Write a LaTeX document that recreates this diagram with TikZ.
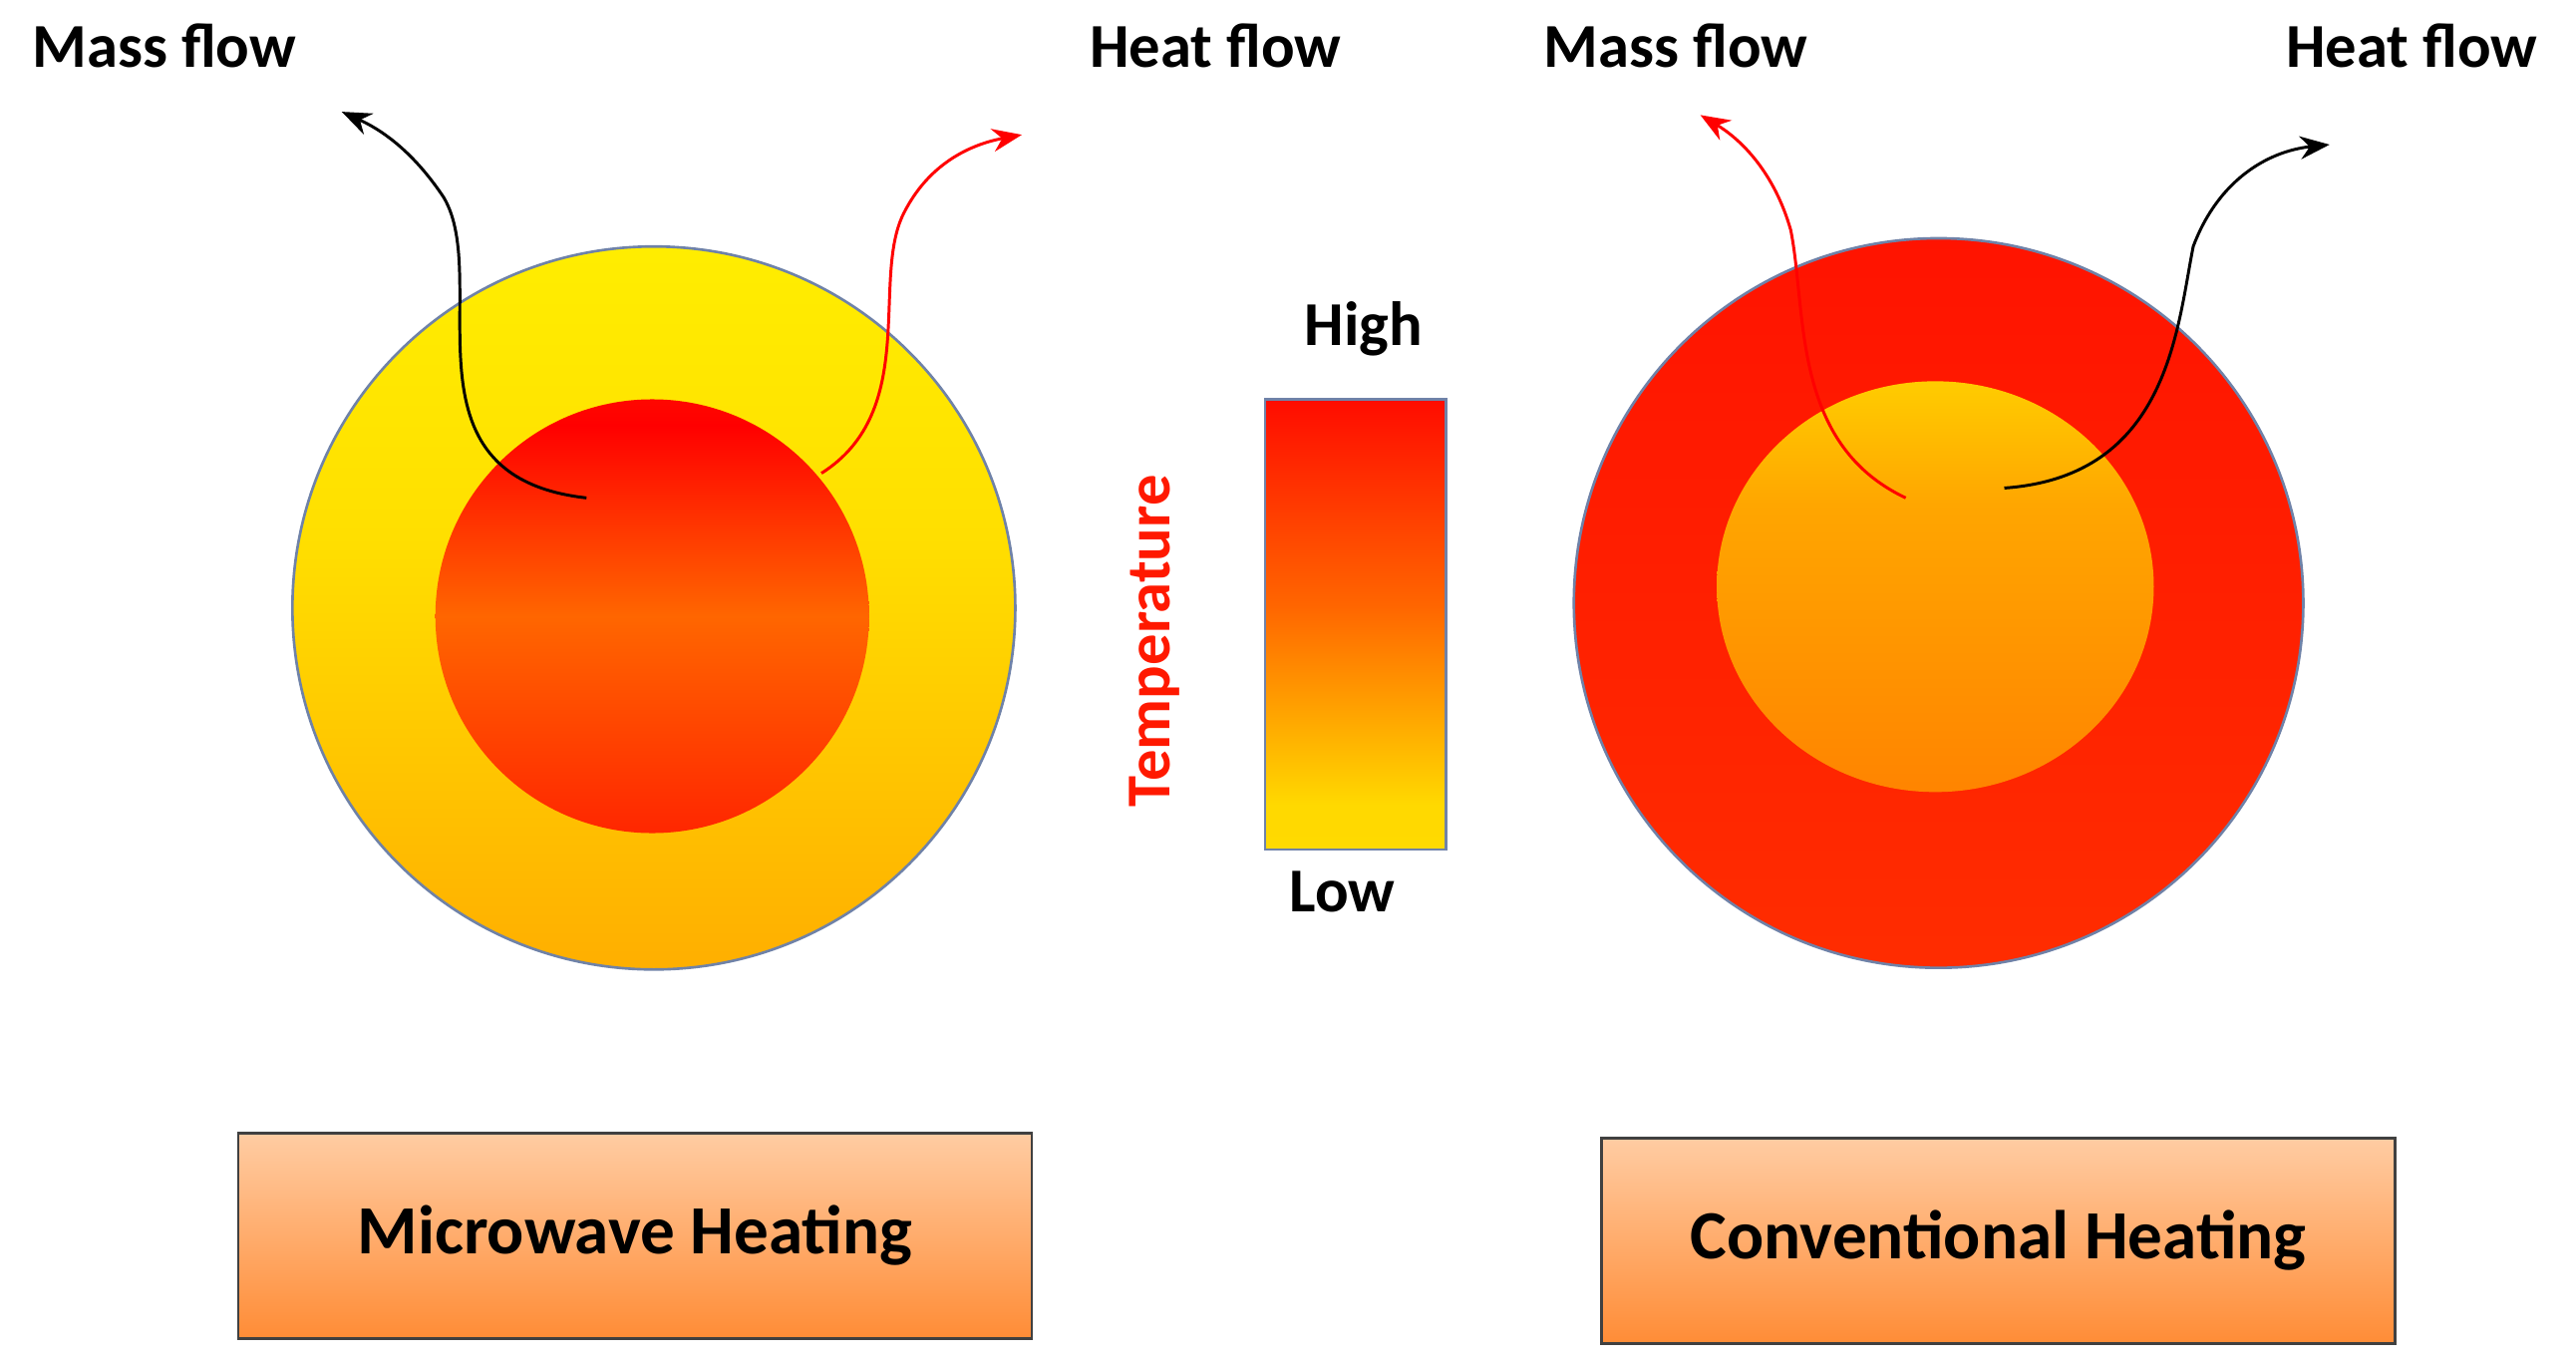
\documentclass[tikz,border=0pt]{standalone}
\usepackage{fontspec}
\setmainfont{Carlito}
\usetikzlibrary{arrows.meta}
\definecolor{rim}{HTML}{6F82A8}
\pgfdeclareverticalshading{louter}{100bp}{color(0bp)=(red!60!orange); color(4bp)=(orange!90!yellow); color(55bp)=(yellow!75!orange); color(100bp)=(yellow)}
\pgfdeclareverticalshading{linner}{100bp}{color(0bp)=(red!95!orange); color(25bp)=(red!85!yellow); color(50bp)=(orange!80!red); color(72bp)=(red); color(88bp)=(red!85!yellow); color(100bp)=(orange!75!white)}
\pgfdeclareverticalshading{router}{100bp}{color(0bp)=(red!55!orange); color(100bp)=(red!95!orange)}
\pgfdeclareverticalshading{rinner}{100bp}{color(0bp)=(orange!85!red); color(60bp)=(orange!70!yellow); color(85bp)=(yellow!80!orange); color(100bp)=(yellow)}
\pgfdeclareverticalshading{tbar}{100bp}{color(0bp)=(yellow!75!orange); color(30bp)=(yellow!70!orange); color(52bp)=(orange!80!red); color(78bp)=(red); color(100bp)=(red)}
\pgfdeclareverticalshading{boxsh}{100bp}{color(0bp)=(orange!85!red); color(100bp)=(orange!15!white)}
\tikzset{lbl/.style={font=\bfseries\fontsize{19}{22}\selectfont},
 bx/.style={draw=black!75,line width=0.8pt,shading=boxsh,minimum width=241.5pt,minimum height=62.5pt,font=\bfseries\fontsize{21}{24}\selectfont},
 flow/.style={line width=0.9pt,-{Stealth[length=9pt,width=7pt]}}}
\begin{document}
\begin{tikzpicture}[x=0.5pt,y=-0.5pt]
\useasboundingbox (0,0) rectangle (1568,832);
% left
\shade[shading=louter,draw=rim,line width=0.8pt] (398,370) circle[radius=220];
\shade[shading=linner] (397,375) circle[radius=132];
% right
\shade[shading=router,draw=rim,line width=0.8pt] (1180,367) circle[radius=222];
\shade[shading=rinner] (1178,357) ellipse[x radius=133,y radius=125];
% bar
\node[draw=rim,line width=0.8pt,shading=tbar,minimum width=55pt,minimum height=137pt,inner sep=0pt] (bar) at (825,380) {};
\node[lbl] (high) at (830,200) {High};
\node[lbl] (low) at (817,543) {Low};
\node[lbl,text=red!80!orange,rotate=90] (temp) at (703,390) {Temperature};
% labels
\node[lbl] (m1) at (100,28) {Mass flow};
\node[lbl] (h1) at (740,28) {Heat flow};
\node[lbl] (m2) at (1020,28) {Mass flow};
\node[lbl] (h2) at (1468,28) {Heat flow};
% arrows
\coordinate (a1s) at (357,303); \coordinate (a1e) at (208,68);
\coordinate (a2s) at (500,288); \coordinate (a2e) at (622,82);
\coordinate (a3s) at (1160,303); \coordinate (a3e) at (1035,70);
\coordinate (a4s) at (1220,297); \coordinate (a4e) at (1418,88);
\draw[flow,black] (a1s) .. controls (240,290) and (300,170) .. (270,120) .. controls (250,90) and (230,78) .. (a1e);
\draw[flow,red] (a2s) .. controls (560,250) and (530,170) .. (550,130) .. controls (565,100) and (590,88) .. (a2e);
\draw[flow,red] (a3s) .. controls (1090,270) and (1100,190) .. (1090,140) .. controls (1080,105) and (1060,85) .. (a3e);
\draw[flow,black] (a4s) .. controls (1320,290) and (1325,200) .. (1335,150) .. controls (1350,110) and (1380,92) .. (a4e);
% boxes
\node[bx] (b1) at (386.5,752) {Microwave Heating};
\node[bx] (b2) at (1216.5,755) {Conventional Heating};
\end{tikzpicture}
\end{document}
